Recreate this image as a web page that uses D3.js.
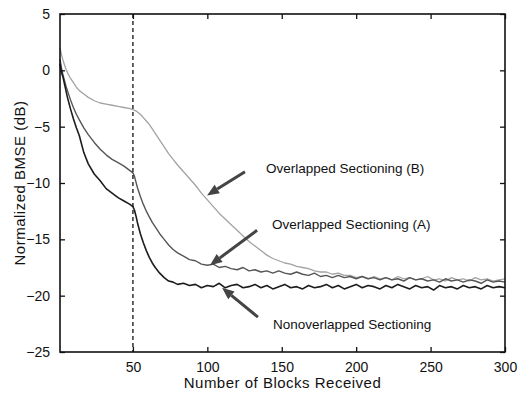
<!DOCTYPE html>
<html lang="en">
<head>
    <meta charset="UTF-8">
    <title>Normalized BMSE vs Blocks Received</title>
    <script src="https://d3js.org/d3.v7.min.js"></script>
    <style>
        body {
            margin: 0;
            background: #ffffff;
            font-family: Arial, "Liberation Sans", sans-serif;
        }
        .tick text {
            font-size: 14px;
            fill: #111;
        }
        .axis-label {
            font-size: 15px;
            letter-spacing: 0.5px;
            fill: #111;
        }
        .note {
            font-size: 13.5px;
            fill: #111;
        }
    </style>
</head>
<body>
    <svg id="chart" width="532" height="396"></svg>

    <script>
        // blocks received (x) shared by all three curves
        const blocks = [
            1, 2, 3, 4, 5, 6, 8, 10, 12, 14, 17, 20, 24, 28, 32, 36, 40, 44, 48, 50,
            51, 52, 53, 55, 57, 59, 61, 63, 65, 68, 71, 74, 77, 80,
            84, 88, 92, 96, 100, 104, 108, 112, 116, 120, 124, 128, 132, 136, 140,
            144, 148, 152, 156, 160, 164, 168, 172, 176, 180, 184, 188, 192, 196, 200,
            204, 208, 212, 216, 220, 224, 228, 232, 236, 240, 244, 248, 252, 256, 260,
            264, 268, 272, 276, 280, 284, 288, 292, 296, 300
        ];

        const nonoverlapped = [
            0.6, -0.2, -0.6, -1.2, -1.8, -2.4, -3.4, -4.3, -5.1, -5.8, -7.3, -8.3, -9.2, -9.8, -10.5, -10.9, -11.3, -11.6, -11.9, -12.1,
            -12.4, -12.9, -13.5, -14.5, -15.3, -16.0, -16.6, -17.1, -17.5, -18.0, -18.4, -18.7, -18.8, -19.0,
            -18.9, -19.1, -19.0, -19.3, -19.1, -19.2, -18.9, -19.3, -19.1, -19.0, -19.3, -19.2, -19.0, -19.3, -19.1,
            -19.4, -19.2, -19.0, -19.3, -19.2, -19.4, -19.1, -19.3, -19.2, -19.0, -19.3, -19.1, -19.4, -19.2, -19.0,
            -19.3, -19.1, -19.2, -19.4, -19.1, -19.3, -19.0, -19.2, -19.4, -19.1, -19.3, -19.2, -19.5, -19.1, -19.3,
            -19.2, -19.4, -19.1, -19.3, -19.2, -19.4, -19.1, -19.3, -19.2, -19.3
        ];

        const overlappedA = [
            1.0, 0.2, -0.4, -0.9, -1.4, -1.8, -2.6, -3.3, -3.9, -4.4, -5.1, -5.7, -6.4, -7.0, -7.5, -7.9, -8.2, -8.5, -8.9, -9.1,
            -9.4, -9.9, -10.4, -11.2, -11.9, -12.5, -13.0, -13.5, -13.9, -14.5, -15.0, -15.5, -15.9, -16.2,
            -16.5, -16.8, -16.9, -17.2, -17.3, -17.2, -17.5, -17.4, -17.6, -17.7, -17.5, -17.8, -17.7, -17.9, -17.8,
            -18.0, -17.8, -18.0, -18.1, -17.9, -18.1, -18.2, -18.0, -18.3, -18.2, -18.4, -18.2, -18.4, -18.3, -18.5,
            -18.3, -18.5, -18.4, -18.6, -18.4, -18.6, -18.5, -18.7, -18.4, -18.6, -18.5, -18.7, -18.6, -18.8, -18.5,
            -18.7, -18.6, -18.8, -18.6, -18.7, -18.9, -18.6, -18.8, -18.7, -18.8
        ];

        const overlappedB = [
            2.0, 1.4, 0.9, 0.5, 0.1, -0.2, -0.7, -1.1, -1.5, -1.8, -2.1, -2.4, -2.7, -2.9, -3.0, -3.1, -3.2, -3.3, -3.4, -3.5,
            -3.55, -3.6, -3.7, -3.9, -4.2, -4.5, -4.8, -5.2, -5.6, -6.2, -6.8, -7.4, -7.9, -8.4,
            -9.0, -9.6, -10.2, -10.9, -11.5, -12.1, -12.7, -13.2, -13.7, -14.2, -14.7, -15.2, -15.6, -16.0, -16.4,
            -16.7, -16.9, -17.1, -17.2, -17.4, -17.5, -17.6, -17.8, -17.9, -17.9, -18.1, -18.0, -18.2, -18.2, -18.4,
            -18.3, -18.5, -18.3, -18.5, -18.4, -18.6, -18.3, -18.5, -18.4, -18.6, -18.5, -18.3, -18.6, -18.5, -18.7,
            -18.4, -18.6, -18.5, -18.7, -18.4, -18.6, -18.5, -18.7, -18.6, -18.5
        ];

        const xTicks = [50, 100, 150, 200, 250, 300];
        const yTicks = [5, 0, -5, -10, -15, -20, -25];
        const splitBlock = 50;

        // annotations: label text, label anchor, arrow tail, arrow head (data units)
        const notes = [
            { text: "Overlapped Sectioning (B)", at: [139.4, -9.1], from: [125.3, -9.0], to: [99.8, -11.1] },
            { text: "Overlapped Sectioning (A)", at: [143.5, -14.1], from: [133.4, -14.2], to: [101.8, -17.3] },
            { text: "Nonoverlapped Sectioning", at: [144.1, -23.0], from: [134.0, -21.9], to: [109.9, -19.3] }
        ];

        const series = [
            { name: "B", values: overlappedB, color: "#a3a3a3", width: 1.3 },
            { name: "A", values: overlappedA, color: "#555555", width: 1.4 },
            { name: "N", values: nonoverlapped, color: "#1c1c1c", width: 1.6 }
        ];

        const svg = d3.select("#chart");
        const mLeft = 60, mRight = 505, mTop = 14, mBottom = 352;

        const x = d3.scaleLinear().domain([1, 300]).range([mLeft, mRight]);
        const y = d3.scaleLinear().domain([-25, 5]).range([mBottom, mTop]);

        // curves
        const line = d3.line()
            .x((d, i) => x(blocks[i]))
            .y(d => y(d));

        series.forEach(s => {
            svg.append("path")
                .datum(s.values)
                .attr("fill", "none")
                .attr("stroke", s.color)
                .attr("stroke-width", s.width)
                .attr("stroke-linejoin", "round")
                .attr("d", line);
        });

        // dashed line at block 50
        svg.append("line")
            .attr("x1", x(splitBlock)).attr("x2", x(splitBlock))
            .attr("y1", y(5)).attr("y2", y(-25))
            .attr("stroke", "#111")
            .attr("stroke-width", 1.3)
            .attr("stroke-dasharray", "4,3");

        // axes, matlab style: inward ticks on all sides
        svg.append("g")
            .attr("transform", `translate(0,${mBottom})`)
            .call(d3.axisBottom(x).tickValues(xTicks).tickSizeInner(-5).tickSizeOuter(0).tickPadding(10))
            .call(g => g.select(".domain").remove());

        svg.append("g")
            .attr("transform", `translate(0,${mTop})`)
            .call(d3.axisTop(x).tickValues(xTicks).tickSizeInner(-5).tickSizeOuter(0).tickFormat(""))
            .call(g => g.select(".domain").remove());

        svg.append("g")
            .attr("transform", `translate(${mLeft},0)`)
            .call(d3.axisLeft(y).tickValues(yTicks).tickSizeInner(-5).tickSizeOuter(0).tickPadding(10))
            .call(g => g.select(".domain").remove());

        svg.append("g")
            .attr("transform", `translate(${mRight},0)`)
            .call(d3.axisRight(y).tickValues(yTicks).tickSizeInner(-5).tickSizeOuter(0).tickFormat(""))
            .call(g => g.select(".domain").remove());

        svg.selectAll(".tick line").attr("stroke", "#111").attr("stroke-width", 1.3);
        svg.selectAll("g").attr("font-family", null).attr("font-size", null);

        svg.append("rect")
            .attr("x", mLeft).attr("y", mTop)
            .attr("width", mRight - mLeft).attr("height", mBottom - mTop)
            .attr("fill", "none")
            .attr("stroke", "#111")
            .attr("stroke-width", 1.6);

        // arrows and notes
        notes.forEach(n => {
            const x1 = x(n.from[0]), y1 = y(n.from[1]);
            const x2 = x(n.to[0]), y2 = y(n.to[1]);
            const ang = Math.atan2(y2 - y1, x2 - x1);
            const headLen = 12, headW = 5;
            const bx = x2 - headLen * Math.cos(ang), by = y2 - headLen * Math.sin(ang);
            svg.append("line")
                .attr("x1", x1).attr("y1", y1)
                .attr("x2", bx).attr("y2", by)
                .attr("stroke", "#444")
                .attr("stroke-width", 3);
            const px = -Math.sin(ang) * headW, py = Math.cos(ang) * headW;
            svg.append("path")
                .attr("d", `M${x2},${y2}L${bx + px},${by + py}L${bx - px},${by - py}Z`)
                .attr("fill", "#444");
            svg.append("text")
                .attr("class", "note")
                .attr("x", x(n.at[0]))
                .attr("y", y(n.at[1]))
                .text(n.text);
        });

        // axis labels
        svg.append("text")
            .attr("class", "axis-label")
            .attr("x", (mLeft + mRight) / 2)
            .attr("y", 388)
            .attr("text-anchor", "middle")
            .text("Number of Blocks Received");

        svg.append("text")
            .attr("class", "axis-label")
            .attr("transform", `translate(25,${(mTop + mBottom) / 2}) rotate(-90)`)
            .attr("text-anchor", "middle")
            .text("Normalized BMSE (dB)");
    </script>
</body>
</html>
